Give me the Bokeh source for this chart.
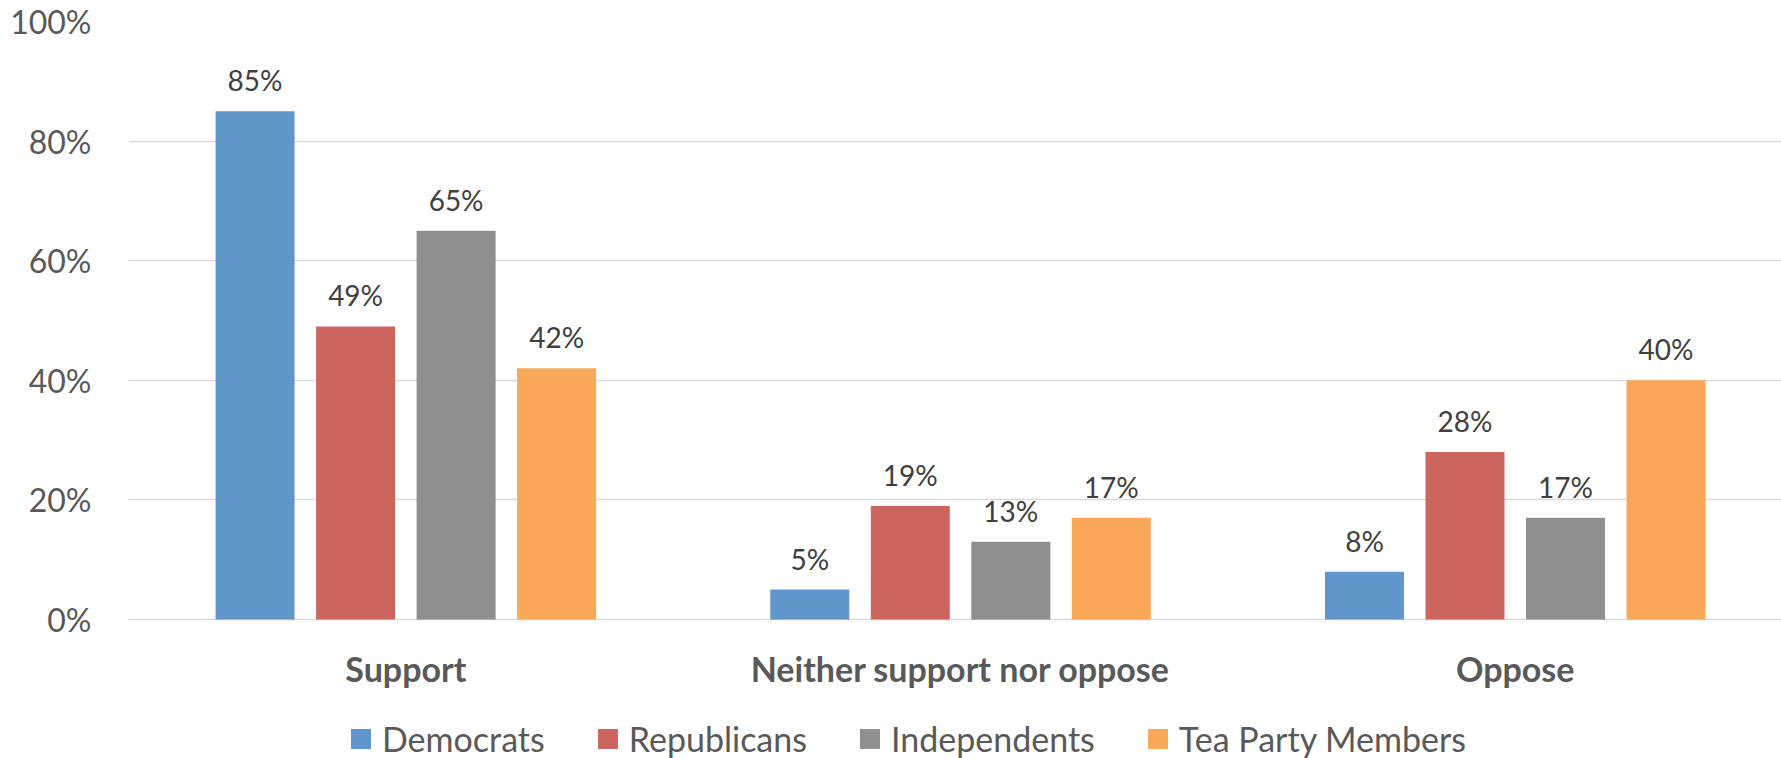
from bokeh.plotting import figure
from bokeh.models import Range1d, FixedTicker, Legend, LegendItem, ColumnDataSource
from bokeh.core.properties import value
from bokeh.embed import file_html
from bokeh.resources import INLINE

categories = ["Support", "Neither support nor oppose", "Oppose"]
series = ["Democrats", "Republicans", "Independents", "Tea Party Members"]
democrats = [85, 5, 8]
republicans = [49, 19, 28]
independents = [65, 13, 17]
tea_party = [42, 17, 40]
colors = ["#6096C9", "#CD655F", "#8F8F8F", "#F9A857"]
y_ticks = [0, 20, 40, 60, 80, 100]

values = [democrats, republicans, independents, tea_party]

FONT = "Lato"
step = 0.1812
bar_w = 0.1424

p = figure(width=1781, height=758, output_backend="svg", toolbar_location=None,
           x_range=Range1d(0, 2.98), y_range=Range1d(-23.244, 100),
           min_border_left=128, min_border_right=0, min_border_top=21,
           min_border_bottom=0, outline_line_color=None)

items = []
for s, (name, vals, col) in enumerate(zip(series, values, colors)):
    xs = [i + 0.5 + (s - 1.5) * step for i in range(len(categories))]
    src = ColumnDataSource(dict(x=xs, top=vals, lab=[f"{v}%" for v in vals]))
    r = p.vbar(x="x", top="top", bottom=0, width=bar_w, source=src,
               fill_color=col, line_color=None)
    p.text(x="x", y="top", text="lab", source=src, y_offset=-31,
           text_align="center", text_baseline="alphabetic",
           text_font=value(FONT), text_font_size="28px", text_color="#404040")
    items.append(LegendItem(label=name, renderers=[r]))

# category labels under the groups
cat_src = ColumnDataSource(dict(x=[i + 0.5 for i in range(len(categories))],
                                y=[0] * len(categories), t=categories))
p.text(x="x", y="y", text="t", source=cat_src, y_offset=49,
       text_align="center", text_baseline="alphabetic",
       text_font=value(FONT), text_font_style="bold", text_font_size="34px",
       text_color="#595959")

p.xaxis.visible = False

p.yaxis.ticker = FixedTicker(ticks=y_ticks)
p.yaxis.major_label_overrides = {t: f"{t}%" for t in y_ticks}
p.yaxis.major_tick_line_color = None
p.yaxis.minor_tick_line_color = None
p.yaxis.axis_line_color = None
p.yaxis.major_label_text_font = FONT
p.yaxis.major_label_text_font_size = "32px"
p.yaxis.major_label_text_color = "#595959"
p.yaxis.major_label_standoff = 31

p.xgrid.grid_line_color = None
p.ygrid.grid_line_color = "#D9D9D9"
p.ygrid.grid_line_width = 1.5

legend = Legend(items=items, orientation="horizontal", location=(220, -1),
                glyph_width=25, glyph_height=25, label_standoff=9, spacing=50,
                padding=0, margin=0, border_line_color=None,
                background_fill_alpha=0, label_text_font=FONT,
                label_text_font_size="34px", label_text_color="#595959")
p.add_layout(legend, "center")

open("out.html", "w").write(file_html(p, INLINE))
